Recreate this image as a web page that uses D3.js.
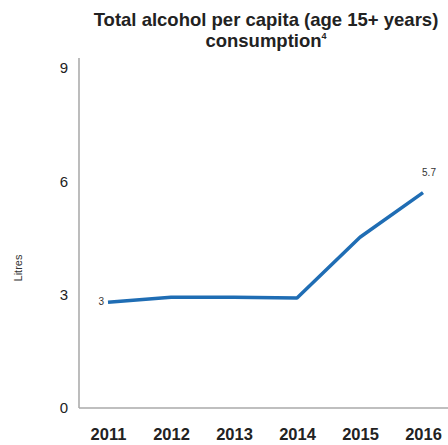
<!DOCTYPE html>
<html>
<head>
<meta charset="utf-8">
<script src="https://cdn.jsdelivr.net/npm/d3@7"></script>
<style>
  body { margin: 0; background: #fff; }
  text { font-family: "Liberation Sans", Arial, sans-serif; }
</style>
</head>
<body>
<svg id="chart" width="448" height="445"></svg>
<script>
var years = ["2011", "2012", "2013", "2014", "2015", "2016"];
var litres = [2.8, 2.93, 2.93, 2.91, 4.52, 5.7];
var yTicks = [0, 3, 6, 9];
var labelled = { "2011": "3", "2016": "5.7" };

var svg = d3.select("#chart");

var xScale = d3.scalePoint().domain(years).range([108, 423]);
var yScale = d3.scaleLinear().domain([0, 9]).range([408, 68]);

// title
svg.append("text")
    .attr("x", 266).attr("y", 26)
    .attr("text-anchor", "middle")
    .attr("font-size", 18.5).attr("font-weight", "bold").attr("fill", "#222")
    .text("Total alcohol per capita (age 15+ years)");
var t2 = svg.append("text")
    .attr("x", 266).attr("y", 47)
    .attr("text-anchor", "middle")
    .attr("font-size", 18.5).attr("font-weight", "bold").attr("fill", "#222");
t2.append("tspan").text("consumption");
t2.append("tspan").attr("font-size", 9).attr("dy", -8).text("4");

// axes
var yAxis = svg.append("g")
    .attr("transform", "translate(79,0)")
    .call(d3.axisLeft(yScale).tickValues(yTicks).tickSize(0).tickPadding(11));
yAxis.select(".domain").attr("stroke", "#999").attr("stroke-width", 1.3).attr("d", "M0,58V408");
yAxis.selectAll("text").attr("font-size", 15).attr("fill", "#222")
    .attr("font-family", "Liberation Sans, Arial, sans-serif");

var xAxis = svg.append("g")
    .attr("transform", "translate(0,408)")
    .call(d3.axisBottom(xScale).tickSize(0).tickPadding(20));
xAxis.select(".domain").attr("stroke", "#aaa").attr("stroke-width", 1.3).attr("d", "M79,0H448");
xAxis.selectAll("text").attr("font-size", 16.5).attr("font-weight", "bold").attr("fill", "#222")
    .attr("font-family", "Liberation Sans, Arial, sans-serif");

// y label
svg.append("text")
    .attr("transform", "translate(22,268) rotate(-90)")
    .attr("text-anchor", "middle")
    .attr("font-size", 11).attr("fill", "#333")
    .text("Litres");

// line
var data = years.map(function(y, i) { return { year: y, value: litres[i] }; });
var line = d3.line()
    .x(function(d) { return xScale(d.year); })
    .y(function(d) { return yScale(d.value); });

svg.append("path")
    .datum(data)
    .attr("fill", "none")
    .attr("stroke", "#1f6db4")
    .attr("stroke-width", 3.5)
    .attr("stroke-linejoin", "round")
    .attr("d", line);

// data labels
svg.selectAll(".lbl")
    .data(data.filter(function(d) { return labelled[d.year]; }))
    .enter().append("text")
    .attr("class", "lbl")
    .attr("font-size", 10).attr("fill", "#333")
    .attr("x", function(d) { return d.year === "2011" ? xScale(d.year) - 4 : xScale(d.year) + 6; })
    .attr("y", function(d) { return d.year === "2011" ? yScale(d.value) + 3 : yScale(d.value) - 17; })
    .attr("text-anchor", function(d) { return d.year === "2011" ? "end" : "middle"; })
    .text(function(d) { return labelled[d.year]; });
</script>
</body>
</html>
